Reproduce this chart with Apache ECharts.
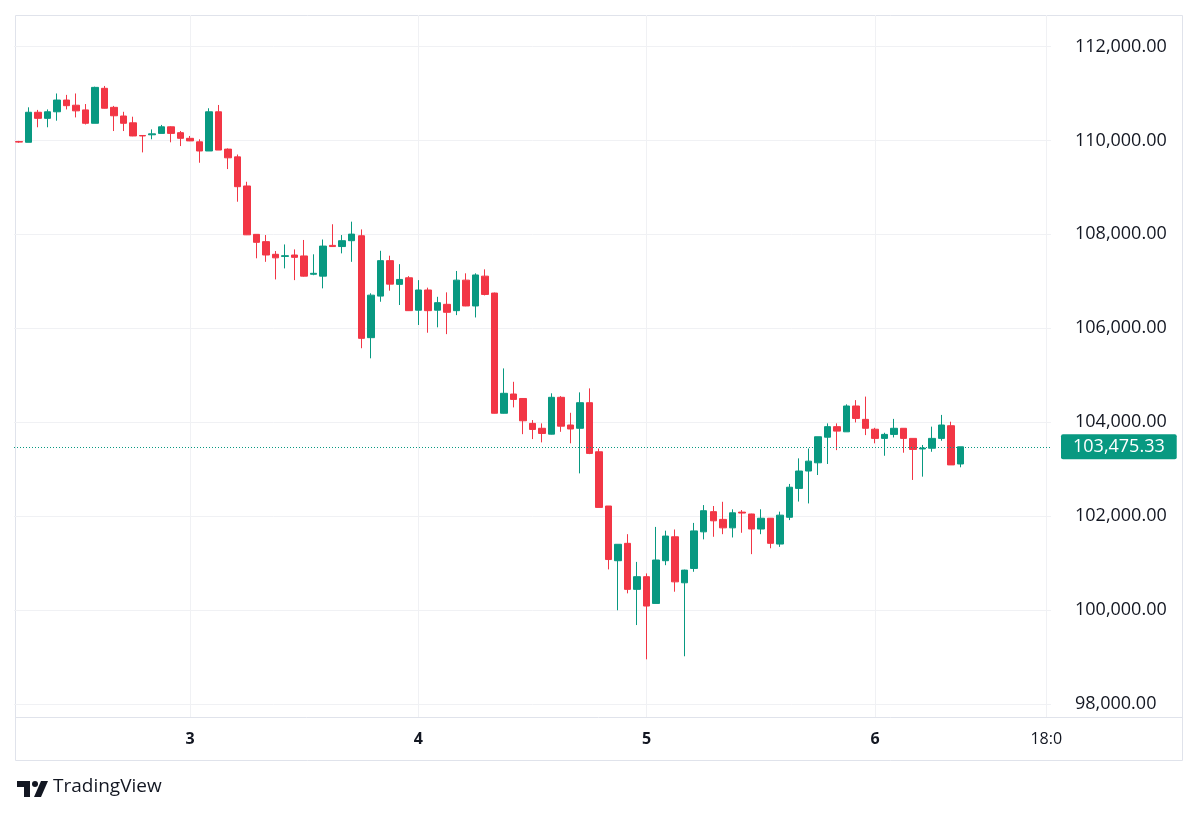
<!DOCTYPE html>
<html>
<head>
<meta charset="utf-8">
<script src="https://cdn.jsdelivr.net/npm/echarts@6/dist/echarts.min.js"></script>
<style>
  html, body { margin: 0; padding: 0; background: #fff; }
  #chart { width: 1200px; height: 817px; }
</style>
</head>
<body>
<div id="chart"></div>
<script>
// hourly BTC candles, 2nd 06:00 -> 6th 09:00
const opens = [
  109975, 109960, 110600, 110470, 110610, 110860, 110750, 110650, 110365, 111110,
  110705, 110520, 110375, 110105, 110120, 110150, 110290, 110165, 110045, 109970,
  109775, 110610, 109815, 109650, 109030, 108000, 107845, 107575, 107530, 107560,
  107540, 107150, 107110, 107765, 107740, 107865, 107970, 105800, 106685, 107440,
  106935, 107075, 106385, 106815, 106385, 106510, 106375, 107025, 106475, 107110,
  106750, 104190, 104600, 104505, 103975, 103870, 103745, 104530, 103940, 103870,
  104415, 103370, 102215, 101050, 101420, 100440, 100710, 100140, 101050, 101560,
  100580, 100885, 101665, 102095, 101930, 101750, 102085, 102045, 101725, 101955,
  101405, 101975, 102590, 102960, 103135, 103680, 103905, 103795, 104345, 104060,
  103850, 103655, 103740, 103870, 103655, 103430, 103445, 103655, 103925, 103110
]
const highs = [
  109990, 110705, 110650, 110660, 111000, 110970, 111000, 110775, 111145, 111160,
  110735, 110610, 110505, 110110, 110235, 110330, 110300, 110200, 110095, 110025,
  110685, 110755, 109830, 109700, 109120, 108000, 107985, 107645, 107785, 107680,
  107880, 107575, 107890, 108215, 107985, 108270, 108105, 106745, 107650, 107545,
  107365, 107110, 107025, 106865, 106670, 106765, 107220, 107170, 107170, 107255,
  106760, 105145, 104860, 104510, 104045, 103975, 104615, 104555, 104200, 104635,
  104720, 103440, 102215, 101400, 101615, 101025, 100780, 101770, 101690, 101715,
  100860, 101855, 102235, 102215, 102305, 102145, 102130, 102050, 102145, 101960,
  102095, 102685, 103230, 103440, 103690, 103975, 103975, 104380, 104470, 104545,
  103880, 103775, 104070, 103870, 103655, 103515, 103905, 104155, 104010, 103475.33
]
const lows = [
  109950, 109960, 110280, 110280, 110420, 110660, 110490, 110340, 110365, 110680,
  110200, 110200, 110090, 109745, 110025, 110150, 109960, 109880, 109985, 109525,
  109775, 109795, 109390, 108695, 107985, 107490, 107415, 107040, 107275, 107025,
  107100, 107130, 106850, 107740, 107595, 107415, 105575, 105360, 106565, 106800,
  106495, 106370, 106070, 105905, 106020, 105875, 106280, 106470, 106230, 106700,
  104185, 104185, 104315, 103745, 103640, 103570, 103740, 103795, 103550, 102910,
  103320, 102185, 100865, 99995, 100355, 99680, 98950, 100140, 100955, 100390,
  99015, 100815, 101505, 101560, 101615, 101545, 101645, 101190, 101615, 101315,
  101345, 101915, 102310, 102270, 102875, 103110, 103405, 103795, 103995, 103725,
  103550, 103285, 103675, 103350, 102770, 102840, 103370, 103605, 103090, 103040
]
const closes = [
  109965, 110600, 110470, 110610, 110860, 110740, 110630, 110365, 111130, 110685,
  110525, 110365, 110095, 110095, 110140, 110290, 110150, 110045, 109990, 109775,
  110610, 109795, 109630, 109015, 107990, 107830, 107560, 107500, 107545, 107510,
  107110, 107170, 107750, 107740, 107865, 108005, 105785, 106705, 107440, 106940,
  107040, 106375, 106815, 106375, 106545, 106340, 107025, 106475, 107135, 106720,
  104190, 104615, 104485, 104030, 103845, 103760, 104530, 103915, 103855, 104415,
  103335, 102185, 101075, 101400, 100440, 100710, 100085, 101065, 101575, 100600,
  100850, 101685, 102115, 101900, 101750, 102070, 102065, 101725, 101955, 101420,
  102020, 102615, 102960, 103170, 103690, 103905, 103810, 104345, 104080, 103870,
  103655, 103740, 103870, 103655, 103420, 103450, 103655, 103940, 103090, 103475.33
]

const lastPrice = 103475.33
const startTime = '2025-11-02T06:00:00Z'
const slotCount = 109 // candles plus empty hours up to 6th 18:00

const priceTicks = [98000, 100000, 102000, 104000, 106000, 108000, 110000, 112000]
const tickTimes = ['11-03 00:00', '11-04 00:00', '11-05 00:00', '11-06 00:00', '11-06 18:00']
const tickLabels = ['3', '4', '5', '6', '18:0']

const UP = '#089981'
const DOWN = '#F23645'
const FONT = 'Open Sans'

function pad(n) { return String(n).padStart(2, '0') }

const categories = []
const t0 = new Date(startTime).getTime()
for (let i = 0; i < slotCount; i++) {
  const d = new Date(t0 + i * 3600 * 1000)
  categories.push(pad(d.getUTCMonth() + 1) + '-' + pad(d.getUTCDate()) + ' ' + pad(d.getUTCHours()) + ':00')
}

const candles = opens.map((o, i) => [o, closes[i], lows[i], highs[i]])

const isTick = (idx, val) => tickTimes.includes(val)
const fmtPrice = (v) => v.toLocaleString('en-US', { minimumFractionDigits: 2, maximumFractionDigits: 2 })

const chart = echarts.init(document.getElementById('chart'))

chart.setOption({
  animation: false,
  backgroundColor: '#fff',
  grid: { left: 14, right: 149, top: 15, bottom: 100 },
  xAxis: {
    type: 'category',
    data: categories,
    boundaryGap: true,
    axisLine: { show: false },
    axisTick: { show: false, alignWithLabel: true },
    axisLabel: {
      interval: isTick,
      margin: 14,
      formatter: (val) => {
        const k = tickTimes.indexOf(val)
        if (k < 0) return ''
        return val.endsWith('00:00') ? '{d|' + tickLabels[k] + '}' : '{t|' + tickLabels[k] + '}'
      },
      rich: {
        d: { fontFamily: FONT, fontSize: 16, fontWeight: 'bold', color: '#131722' },
        t: { fontFamily: FONT, fontSize: 16, color: '#131722' },
      },
    },
    splitLine: { show: true, interval: isTick, alignWithLabel: true, lineStyle: { color: '#f0f1f4' } },
  },
  yAxis: {
    type: 'value',
    position: 'right',
    min: 97722,
    max: 112671,
    axisLine: { show: false },
    axisTick: { show: false, customValues: priceTicks },
    axisLabel: {
      customValues: priceTicks,
      align: 'left',
      margin: 24,
      color: '#131722',
      fontFamily: FONT,
      fontSize: 18,
      formatter: fmtPrice,
    },
    splitLine: { show: true, lineStyle: { color: '#f0f1f4' } },
  },
  series: [
    {
      type: 'candlestick',
      data: candles,
      barWidth: 7,
      itemStyle: {
        color: UP,
        color0: DOWN,
        borderColor: UP,
        borderColor0: DOWN,
        borderWidth: 1,
      },
      markLine: {
        silent: true,
        symbol: ['none', 'none'],
        data: [{ yAxis: lastPrice }],
        lineStyle: { type: [1, 2], color: UP, width: 1 },
        label: {
          position: 'end',
          distance: 10,
          formatter: () => fmtPrice(lastPrice),
          backgroundColor: UP,
          color: '#fff',
          fontFamily: FONT,
          fontSize: 18,
          padding: [4, 12, 3, 12],
          borderRadius: 2,
        },
      },
    },
  ],
  graphic: [
    {
      type: 'rect',
      shape: { x: 15.5, y: 15.5, width: 1167, height: 745 },
      style: { fill: 'none', stroke: '#e0e3eb', lineWidth: 1 },
      silent: true,
    },
    {
      type: 'line',
      shape: { x1: 15, y1: 717.5, x2: 1182, y2: 717.5 },
      style: { stroke: '#e0e3eb', lineWidth: 1 },
      silent: true,
    },
    {
      type: 'group',
      left: 17,
      top: 781,
      children: [
        { type: 'rect', shape: { x: 0, y: 0, width: 13, height: 6 }, style: { fill: '#131722' } },
        { type: 'rect', shape: { x: 7, y: 0, width: 6, height: 16 }, style: { fill: '#131722' } },
        { type: 'circle', shape: { cx: 18, cy: 3, r: 3 }, style: { fill: '#131722' } },
        { type: 'polygon', shape: { points: [[24, 0], [31, 0], [24, 16], [17, 16]] }, style: { fill: '#131722' } },
      ],
    },
    {
      type: 'text',
      left: 53,
      top: 777,
      style: { text: 'TradingView', font: '19px "Open Sans"', fill: '#131722' },
    },
  ],
})
</script>
</body>
</html>
